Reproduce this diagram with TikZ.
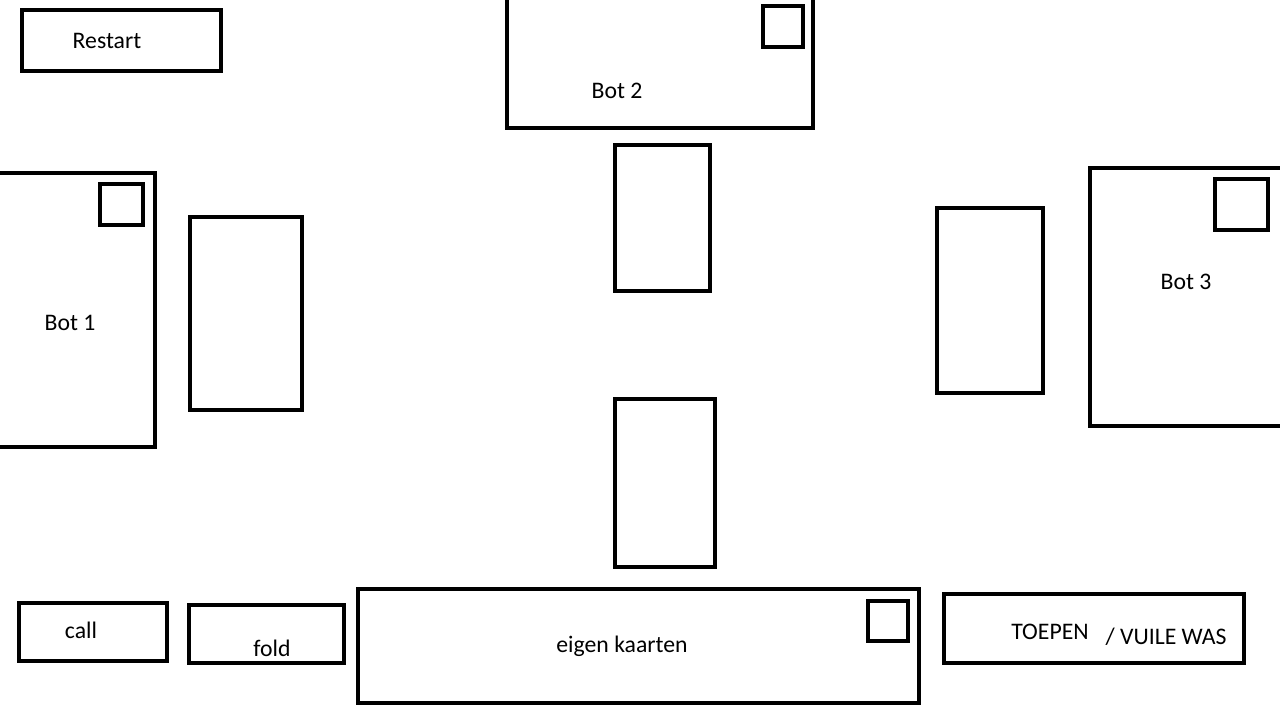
\documentclass[tikz,border=0pt]{standalone}
\usepackage{fontspec}
\setmainfont{Carlito}
\def\px{0.75pt}
\tikzset{
  box/.style={draw=black, line width=4*\px, inner sep=0pt, fill=none},
  lbl/.style={inner sep=0pt, font=\fontsize{17.8pt}{21pt}\selectfont, text=black}
}
\newcommand{\bx}[5]{\node[box, minimum width=#4*\px, minimum height=#5*\px] (#1) at (#2,#3) {};}
\begin{document}
\begin{tikzpicture}[x=0.75pt, y=-0.75pt]
\useasboundingbox (0,0) rectangle (1280,705);
\fill[white] (0,0) rectangle (1280,705);
\clip (0,0) rectangle (1280,705);
\bx{restart}{121.5}{40.5}{199}{61}
\bx{bot2}{660}{61.5}{306}{133}
\bx{bot2sq}{783}{26.5}{40}{41}
\bx{cardtop}{662.5}{218}{95}{146}
\bx{bot1}{75}{310}{160}{274}
\bx{bot1sq}{121.5}{204.5}{43}{41}
\bx{cardleft}{246}{313.5}{112}{193}
\bx{cardright}{990}{300.5}{106}{185}
\bx{bot3}{1187.5}{297}{195}{258}
\bx{bot3sq}{1241.5}{204.5}{53}{51}
\bx{cardbottom}{665}{483}{100}{168}
\bx{call}{93}{632}{148}{58}
\bx{fold}{266.5}{634}{155}{58}
\bx{own}{638.5}{646}{561}{114}
\bx{ownsq}{888}{621}{40}{40}
\bx{toepen}{1094}{628.5}{300}{69}
\node[lbl] (trestart) at (107,41) {Restart};
\node[lbl] (tbot2) at (617,91) {Bot 2};
\node[lbl] (tbot1) at (70,323) {Bot 1};
\node[lbl] (tbot3) at (1186,282) {Bot 3};
\node[lbl] (tcall) at (81,630) {call};
\node[lbl] (tfold) at (272,648) {fold};
\node[lbl] (town) at (622,646) {eigen kaarten};
\node[lbl] (ttoepen) at (1050,632) {TOEPEN};
\node[lbl] (tvuile) at (1166,637) {/ VUILE WAS};
\end{tikzpicture}
\end{document}
